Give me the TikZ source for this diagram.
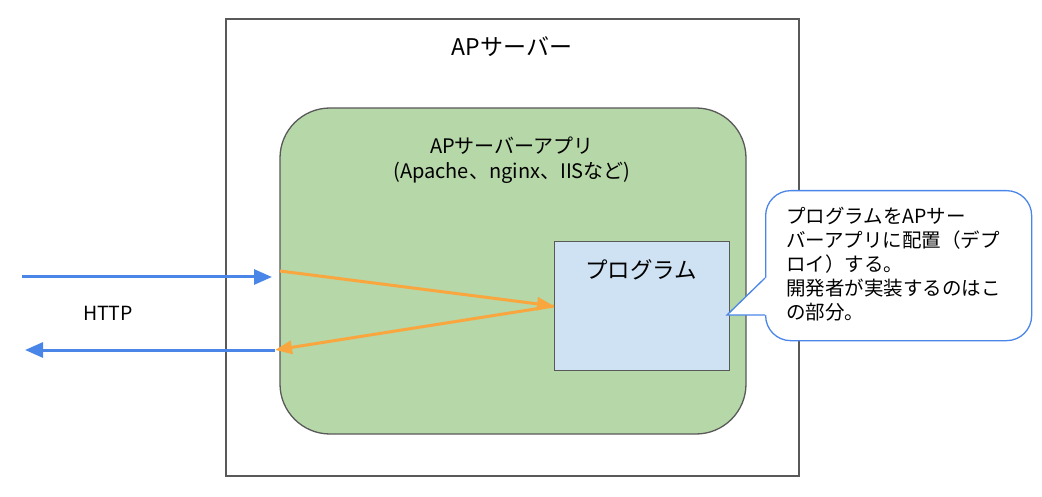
\documentclass[tikz,border=0pt]{standalone}
\usepackage{fontspec}
\setmainfont{Noto Sans CJK JP}
\usetikzlibrary{arrows.meta}
\definecolor{bordergray}{HTML}{595959}
\definecolor{appgreen}{HTML}{B6D7A8}
\definecolor{progblue}{HTML}{CFE2F3}
\definecolor{arrowblue}{HTML}{4A86E8}
\definecolor{arroworange}{HTML}{F9A63F}
\tikzset{
  boxline/.style={draw=bordergray, line width=1.3pt},
  bluearrow/.style={draw=arrowblue, line width=3pt, -{Triangle[length=18pt,width=15pt]}},
  orangearrow/.style={draw=arroworange, line width=3pt, -{Triangle[length=17pt,width=13pt]}},
  txt/.style={inner sep=0pt, text=black},
}
\begin{document}
\begin{tikzpicture}[x=1pt,y=-1pt]
\useasboundingbox (0,0) rectangle (1042,497);
% outer server box
\draw[boxline, fill=white] (226,19) rectangle (799,476);
\node[txt, font=\fontsize{23}{27}\selectfont] (title) at (512,47) {APサーバー};
% app box
\draw[boxline, fill=appgreen, rounded corners=50pt] (280,108) rectangle (746,434);
\coordinate (appW1) at (280,271);
\coordinate (appW2) at (275,350);
\node[txt, font=\fontsize{20}{25}\selectfont, align=center] (apptxt) at (512,160) {APサーバーアプリ\\(Apache、nginx、IISなど)};
% program box
\node[boxline, fill=progblue, minimum width=175pt, minimum height=129pt, inner sep=0pt, anchor=north west] (prog) at (554,241) {};
\node[txt, font=\fontsize{22.5}{26}\selectfont] (progtxt) at (641,270) {プログラム};
% callout
\node[draw=arrowblue, line width=1.3pt, fill=white, rounded corners=25pt, minimum width=266pt, minimum height=150pt, inner sep=0pt, anchor=north west] (note) at (765,190) {};
\coordinate (tip) at (727,315);
\fill[white] (tip) -- (765,278) -- (767,278) -- (767,315) -- cycle;
\draw[draw=arrowblue, line width=1.3pt, line join=miter] (765,278) -- (tip) -- (765,315);
\node[txt, font=\fontsize{19.5}{24}\selectfont, align=left, anchor=north west] (notetxt) at (786,207) {プログラムをAPサー\\バーアプリに配置（デプ\\ロイ）する。\\開発者が実装するのはこ\\の部分。};
% HTTP arrows
\coordinate (inStart) at (22,277);
\coordinate (inEnd) at (272,277);
\coordinate (outEnd) at (25,350);
\draw[bluearrow] (inStart) -- (inEnd);
\draw[bluearrow] (appW2) -- (outEnd);
\node[txt, font=\fontsize{19.5}{24}\selectfont] (http) at (108,313) {HTTP};
% orange arrows
\coordinate (progIn) at (554,306);
\draw[orangearrow] (appW1) -- (progIn);
\draw[orangearrow] (progIn) -- (appW2);
\end{tikzpicture}
\end{document}
